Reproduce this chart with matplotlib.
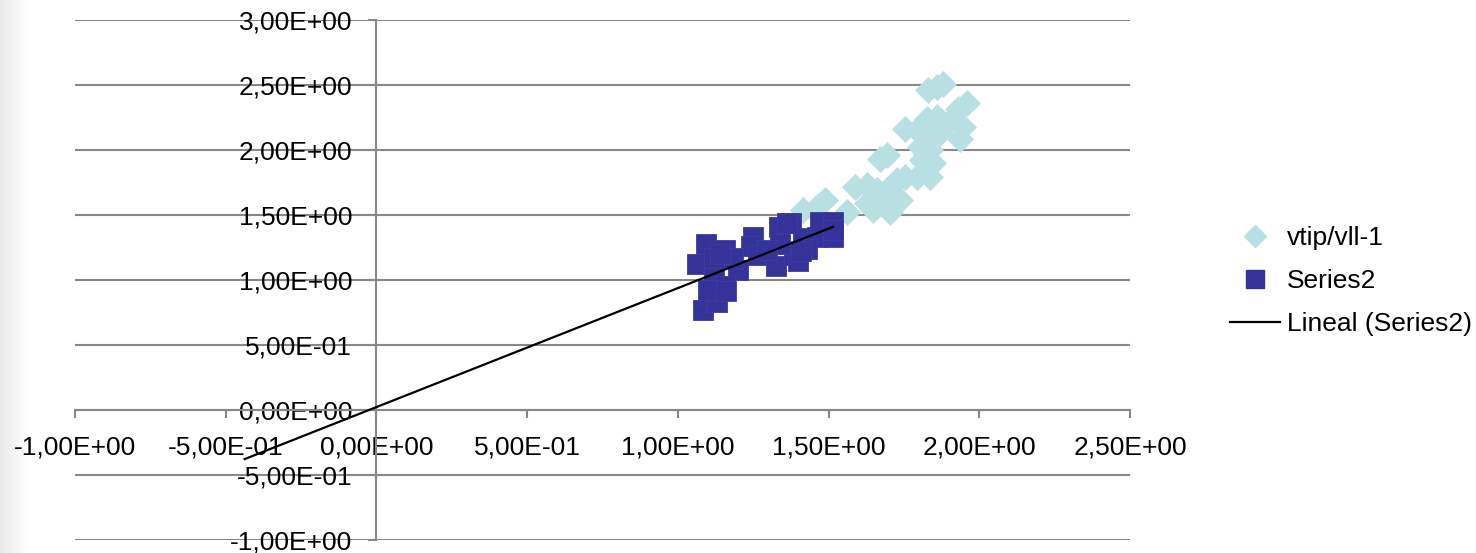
import numpy as np
import matplotlib
matplotlib.use('Agg')
import matplotlib.pyplot as plt
from matplotlib.ticker import FuncFormatter, FixedLocator
from matplotlib.lines import Line2D

# ---------------- data ----------------
vtip_x = [1.831, 1.859, 1.881, 1.958, 1.931, 1.754, 1.826, 1.859, 1.892, 1.947,
          1.936, 1.804, 1.815, 1.870, 1.804, 1.837, 1.809, 1.848, 1.837, 1.671,
          1.693, 1.793, 1.754, 1.726, 1.704, 1.660, 1.627, 1.588, 1.627, 1.660,
          1.704, 1.737, 1.649, 1.704, 1.560, 1.488, 1.461, 1.416]
vtip_y = [2.467, 2.487, 2.513, 2.360, 2.320, 2.160, 2.240, 2.256, 2.205, 2.180,
          2.090, 2.180, 2.100, 2.130, 2.025, 2.000, 1.923, 1.900, 1.795, 1.936,
          1.960, 1.795, 1.795, 1.770, 1.720, 1.690, 1.730, 1.720, 1.590, 1.615,
          1.590, 1.615, 1.540, 1.525, 1.525, 1.615, 1.565, 1.540]

s2_x = [1.083, 1.107, 1.130, 1.063, 1.094, 1.156, 1.200, 1.120, 1.157, 1.250,
        1.243, 1.266, 1.325, 1.336, 1.375, 1.385, 1.400, 1.415, 1.460, 1.470,
        1.515, 1.515, 1.340, 1.295, 1.100, 1.183, 1.363, 1.515, 1.159,
        1.120, 1.140, 1.430, 1.410]
s2_y = [0.770, 0.890, 0.830, 1.120, 1.280, 1.230, 1.080, 1.020, 0.950, 1.330,
        1.260, 1.190, 1.110, 1.410, 1.440, 1.190, 1.150, 1.320, 1.330, 1.450,
        1.450, 1.330, 1.280, 1.230, 0.920, 1.170, 1.440, 1.385, 0.915,
        1.170, 1.200, 1.240, 1.220]

x_ticks = [-1.0, -0.5, 0.0, 0.5, 1.0, 1.5, 2.0, 2.5]
y_ticks = [-1.0, -0.5, 0.0, 0.5, 1.0, 1.5, 2.0, 2.5, 3.0]
series_labels = ['vtip/vll-1', 'Series2', 'Lineal (Series2)']
trend_backward = 1.5

# ---------------- style ----------------
plt.rcParams['font.family'] = ['Liberation Sans', 'DejaVu Sans']
FS = 19
GRID = '#888888'
C_VTIP = '#B8DFE2'
C_S2 = '#333399'

W, H = 1476, 553
fig = plt.figure(figsize=(W / 100, H / 100), dpi=100)

# subtle gray gradient at the left edge
bg = fig.add_axes([0, 0, 28 / W, 1])
grad = np.linspace(0, 1, 64)[None, :]
bg.imshow(grad, cmap=matplotlib.colors.LinearSegmentedColormap.from_list(
    'g', ['#E9E9E9', '#FFFFFF']), aspect='auto', extent=[0, 1, 0, 1])
bg.axis('off')

ax = fig.add_axes([75 / W, 13 / H, 1055 / W, 520 / H])
ax.set_xlim(x_ticks[0], x_ticks[-1])
ax.set_ylim(y_ticks[0] - 0.003, y_ticks[-1] + 0.003)

fmt = FuncFormatter(lambda v, p: ('%.2E' % v).replace('.', ','))
ax.xaxis.set_major_locator(FixedLocator(x_ticks))
ax.yaxis.set_major_locator(FixedLocator(y_ticks))
ax.xaxis.set_major_formatter(fmt)
ax.yaxis.set_major_formatter(fmt)

for s in ['top', 'right']:
    ax.spines[s].set_visible(False)
ax.spines['left'].set_position(('data', 0))
ax.spines['bottom'].set_position(('data', 0))
for s in ['left', 'bottom']:
    ax.spines[s].set_color(GRID)
    ax.spines[s].set_linewidth(1.5)

ax.yaxis.grid(True, color=GRID, lw=1.5)
ax.set_axisbelow(True)
ax.tick_params(axis='both', direction='out', length=5.5, width=1.5,
               color=GRID, labelsize=FS, labelcolor='black')
ax.tick_params(axis='y', pad=12)
ax.tick_params(axis='x', pad=13)

ax.plot(vtip_x, vtip_y, linestyle='none', marker='D', ms=13.5,
        mfc=C_VTIP, mec=C_VTIP, mew=0.5, zorder=3)
ax.plot(s2_x, s2_y, linestyle='none', marker='s', ms=15,
        mfc=C_S2, mec='#3C3CA2', mew=0.6, zorder=4)

coef = np.polyfit(s2_x, s2_y, 1)
tx = np.array([min(s2_x) - trend_backward, max(s2_x)])
ax.plot(tx, np.polyval(coef, tx), color='black', lw=1.6, zorder=5)

handles = [
    Line2D([], [], linestyle='none', marker='D', ms=11.5, mfc=C_VTIP, mec=C_VTIP),
    Line2D([], [], linestyle='none', marker='s', ms=13, mfc=C_S2, mec=C_S2),
    Line2D([], [], color='black', lw=1.6),
]
fig.legend(handles, series_labels, loc='center left',
           bbox_to_anchor=(1230 / W, 1 - 281 / H), frameon=False,
           fontsize=FS, handlelength=1.9, handletextpad=0.25,
           labelspacing=0.72, borderpad=0, borderaxespad=0)

fig.savefig('out.png', dpi=100)
